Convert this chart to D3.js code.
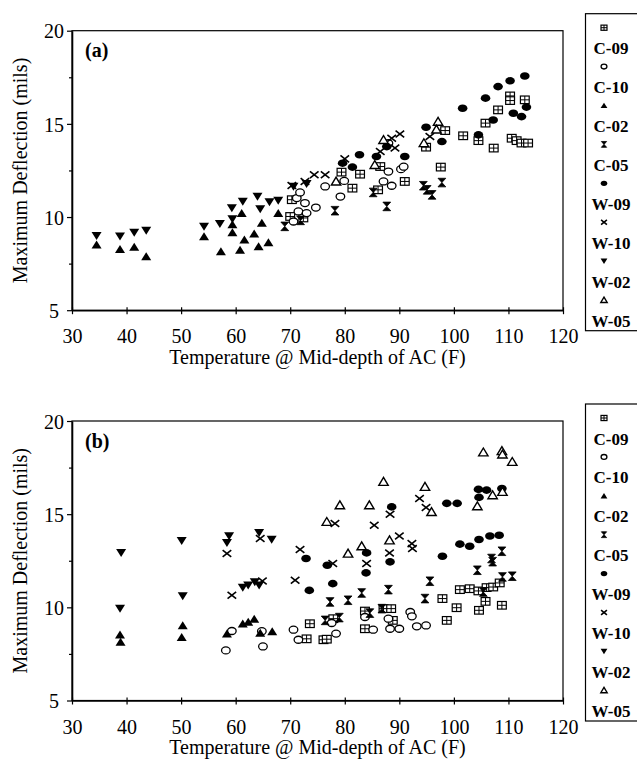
<!DOCTYPE html>
<html>
<head>
<meta charset="utf-8">
<script src="https://cdn.jsdelivr.net/npm/d3@7"></script>
<style>
  html, body { margin: 0; padding: 0; background: #fff; }
  svg { display: block; }
</style>
</head>
<body>
<svg id="chart" width="637" height="759"></svg>
<script>
// ---------------- DATA ----------------
const seriesNames = ["C-09", "C-10", "C-02", "C-05", "W-09", "W-10", "W-02", "W-05"];
const xTicks = [30, 40, 50, 60, 70, 80, 90, 100, 110, 120];
const yTicks = [5, 7.5, 10, 12.5, 15, 17.5, 20];
const yLabels = [5, 10, 15, 20];
const panelLabels = ["(a)", "(b)"];
const xTitle = "Temperature @ Mid-depth of AC (F)";
const yTitle = "Maximum Deflection (mils)";

// Panel (a): [temperature F, max deflection mils]
const aC09 = [[70.0,10.03],[70.3,10.93],[72.4,9.95],[79.4,12.41],[81.4,11.55],[82.8,12.30],[86.1,11.46],[86.5,12.71],[91.0,11.91],[94.9,13.75],[97.6,12.68],[98.4,14.64],[101.7,14.36],[104.5,14.10],[105.8,15.04],[107.3,13.70],[108.1,15.75],[110.3,16.50],[110.3,16.25],[113.0,16.29],[110.6,14.23],[111.5,14.10],[112.4,13.97],[113.6,13.97]];
const aC10 = [[70.6,9.76],[71.2,11.02],[71.5,10.30],[71.8,11.32],[72.7,10.75],[73.0,10.21],[74.7,10.51],[76.4,11.64],[79.2,11.10],[79.9,11.94],[87.1,11.91],[88.0,12.44],[88.0,13.96],[88.6,11.68],[90.3,12.57],[90.8,12.70]];
const aC02 = [[34.5,8.51],[38.8,8.28],[41.4,8.39],[43.6,7.89],[54.2,8.96],[57.3,8.15],[59.4,9.17],[59.4,9.60],[60.8,8.24],[61.1,10.20],[61.6,8.78],[63.4,9.10],[64.2,8.42],[64.8,9.68],[66.0,8.64],[67.8,10.21]];
const aC05 = [[69.0,9.50],[71.9,9.82],[78.2,10.34],[85.2,11.32],[87.7,10.57],[94.4,11.68],[95.1,11.46],[96.0,11.19],[97.8,11.85]];
const aW09 = [[79.6,12.89],[81.4,12.68],[82.7,13.34],[85.8,13.25],[87.7,13.78],[91.0,13.25],[94.9,14.82],[97.8,14.05],[101.6,15.84],[104.5,14.41],[105.8,16.38],[107.2,15.21],[108.1,17.00],[110.3,17.31],[110.9,15.57],[112.4,15.39],[113.0,17.57],[113.3,15.90]];
const aW10 = [[70.3,11.69],[72.7,11.91],[74.4,12.27],[76.4,12.27],[80.0,13.12],[86.5,13.52],[88.6,14.23],[89.2,13.70],[90.1,14.46],[95.6,14.32]];
const aW02 = [[34.5,8.99],[38.8,8.96],[41.4,9.17],[43.6,9.28],[54.2,9.49],[57.1,9.64],[59.4,9.89],[59.3,10.48],[61.3,10.83],[64.0,11.10],[64.5,10.43],[66.2,10.80],[67.8,10.89],[70.6,11.64],[73.0,11.78]];
const aW05 = [[78.4,11.91],[85.5,12.80],[87.1,14.14],[94.5,13.97],[97.1,15.12],[96.8,14.70]];

// Panel (b)
const bC09 = [[73.0,8.31],[73.6,9.12],[76.1,8.26],[76.7,8.29],[77.9,9.39],[83.7,9.80],[83.7,8.85],[87.1,9.93],[88.5,9.93],[88.8,9.30],[97.9,10.47],[98.7,9.30],[100.5,9.98],[101.1,10.95],[102.9,11.00],[104.5,10.88],[104.6,9.84],[105.8,10.32],[106.0,11.06],[107.2,11.09],[108.4,11.31],[108.8,10.11]];
const bC10 = [[58.2,7.69],[59.3,8.73],[65.0,7.90],[64.8,8.72],[70.6,8.80],[71.5,8.26],[77.6,9.16],[78.4,8.59],[83.7,9.48],[85.2,8.80],[88.0,9.39],[88.3,8.85],[90.0,8.85],[92.0,9.75],[92.3,9.52],[93.2,8.98],[94.9,9.03]];
const bC02 = [[38.8,8.53],[38.9,8.14],[50.3,9.03],[50.1,8.40],[58.4,8.58],[61.3,9.12],[62.3,9.21],[63.4,9.37],[64.5,8.62],[66.7,8.70]];
const bC05 = [[76.4,9.30],[77.3,10.29],[79.0,9.45],[80.6,10.38],[83.1,10.77],[84.6,9.69],[86.8,9.93],[88.0,10.95],[94.7,10.47],[95.6,11.40],[104.3,11.99],[105.4,10.82],[106.9,12.62],[107.1,12.45],[108.8,13.01],[108.9,11.63],[110.7,11.67]];
const bW09 = [[72.9,12.62],[73.5,10.91],[76.8,12.26],[77.8,11.27],[83.9,11.85],[84.0,12.92],[88.3,12.44],[88.6,15.39],[97.9,12.74],[98.7,15.58],[100.6,15.58],[101.1,13.39],[102.9,13.28],[104.6,13.64],[104.5,16.33],[104.6,15.90],[106.0,16.29],[106.6,13.83],[108.3,13.87],[108.8,16.38]];
const bW10 = [[58.4,12.89],[59.3,10.65],[64.5,13.69],[64.9,11.41],[70.9,11.45],[71.8,13.10],[77.8,12.35],[78.2,14.50],[84.0,12.35],[85.4,14.41],[88.2,12.92],[88.3,15.00],[90.0,13.83],[92.3,13.42],[92.4,13.16],[93.7,15.84],[94.9,15.36]];
const bW02 = [[39.0,12.92],[38.8,9.93],[50.1,13.57],[50.3,10.61],[58.8,13.83],[58.4,13.46],[61.3,11.06],[62.3,11.18],[63.5,11.36],[64.3,11.18],[64.3,14.00],[66.6,13.64]];
const bW05 = [[76.7,14.59],[79.1,15.48],[80.6,12.89],[83.1,13.28],[84.5,15.48],[87.1,16.74],[88.2,13.60],[94.7,16.47],[95.9,15.12],[104.3,15.43],[105.4,18.32],[107.1,16.02],[108.8,18.39],[108.9,18.21],[108.9,16.20],[110.7,17.81]];

const panelData = [
  [aC09, aC10, aC02, aC05, aW09, aW10, aW02, aW05],
  [bC09, bC10, bC02, bC05, bW09, bW10, bW02, bW05]
];

// ---------------- LAYOUT ----------------
const svg = d3.select("#chart");
const FONT = "'Liberation Serif','Times New Roman',serif";
const plotLeft = 72, plotRight = 563;
const panelTops = [30.7, 421];
const plotH = 279.5;

const x = d3.scaleLinear().domain([30, 120]).range([plotLeft, plotRight]);

function drawMarker(sel, type, k) {
  switch (type) {
    case 0: // boxed cross
      sel.append("rect").attr("x", -4.4*k).attr("y", -3.8*k).attr("width", 8.8*k).attr("height", 7.6*k)
        .attr("fill", "#fff").attr("stroke", "#000").attr("stroke-width", 1.2);
      sel.append("path").attr("d", `M0,${-3.8*k}V${3.8*k}M${-4.4*k},0H${4.4*k}`)
        .attr("stroke", "#000").attr("stroke-width", 1);
      break;
    case 1: // open circle
      sel.append("ellipse").attr("rx", 4.3*k).attr("ry", 3.5*k)
        .attr("fill", "#fff").attr("stroke", "#000").attr("stroke-width", 1.3);
      break;
    case 2: // filled up triangle
      sel.append("path").attr("d", `M0,${-4.2*k}L${5*k},${3.8*k}L${-5*k},${3.8*k}Z`).attr("fill", "#000");
      break;
    case 3: // hourglass
      sel.append("path").attr("d", `M${-3.9*k},${-4.3*k}H${3.9*k}L0,0L${3.9*k},${4.3*k}H${-3.9*k}L0,0Z`)
        .attr("fill", "#000").attr("stroke", "#000").attr("stroke-width", 0.8);
      break;
    case 4: // filled circle
      sel.append("ellipse").attr("rx", 4.8*k).attr("ry", 3.8*k).attr("fill", "#000");
      break;
    case 5: // x
      sel.append("path").attr("d", `M${-4.3*k},${-3.4*k}L${4.3*k},${3.4*k}M${4.3*k},${-3.4*k}L${-4.3*k},${3.4*k}`)
        .attr("stroke", "#000").attr("stroke-width", 1.6).attr("fill", "none");
      break;
    case 6: // filled down triangle
      sel.append("path").attr("d", `M0,${4.2*k}L${5*k},${-3.8*k}L${-5*k},${-3.8*k}Z`).attr("fill", "#000");
      break;
    case 7: // open up triangle
      sel.append("path").attr("d", `M0,${-4.3*k}L${4.7*k},${3.6*k}L${-4.7*k},${3.6*k}Z`)
        .attr("fill", "#fff").attr("stroke", "#000").attr("stroke-width", 1.4);
      break;
  }
}

panelTops.forEach((top, pi) => {
  const bottom = top + plotH;
  const y = d3.scaleLinear().domain([5, 20]).range([bottom, top]);
  const g = svg.append("g");

  // Frame
  g.append("rect").attr("x", plotLeft).attr("y", top).attr("width", plotRight - plotLeft).attr("height", plotH)
    .attr("fill", "none").attr("stroke", "#000").attr("stroke-width", 1.2);

  // Y axis
  const yAxis = d3.axisLeft(y).tickValues(yTicks).tickSize(5).tickSizeOuter(0)
    .tickFormat(d => yLabels.includes(d) ? d : "");
  const ya = g.append("g").attr("transform", `translate(${plotLeft},0)`).call(yAxis);
  ya.select(".domain").attr("stroke-width", 1.6);
  ya.selectAll(".tick line").attr("stroke-width", 1.2).attr("x2", d => yLabels.includes(d) ? -5 : -3);
  ya.selectAll(".tick text").attr("x", -18).attr("text-anchor", "middle").attr("dy", "0.36em")
    .style("font-family", FONT).style("font-size", "20px").attr("fill", "#000");

  // X axis
  const xAxis = d3.axisBottom(x).tickValues(xTicks).tickSize(4).tickSizeOuter(0);
  const xa = g.append("g").attr("transform", `translate(0,${bottom})`).call(xAxis);
  xa.select(".domain").attr("stroke-width", 1.6);
  xa.selectAll(".tick line").attr("y1", -3).attr("stroke-width", 1.2);
  xa.selectAll(".tick text").attr("y", 33).attr("dy", 0)
    .style("font-family", FONT).style("font-size", "20px").attr("fill", "#000");

  // Axis titles
  g.append("text").attr("x", (plotLeft + plotRight) / 2).attr("y", bottom + 53.5)
    .attr("text-anchor", "middle").style("font-family", FONT).style("font-size", "20px").text(xTitle);
  g.append("text").attr("transform", `translate(27,${(top + bottom) / 2}) rotate(-90)`)
    .attr("text-anchor", "middle").style("font-family", FONT).style("font-size", "20px").text(yTitle);

  // Panel label
  g.append("text").attr("x", 85).attr("y", top + 26.5).style("font-family", FONT)
    .style("font-size", "20px").style("font-weight", "bold").text(panelLabels[pi]);

  // Points
  panelData[pi].forEach((series, si) => {
    const sg = g.append("g").attr("class", "series-" + si);
    series.forEach(p => {
      const m = sg.append("g").attr("transform", `translate(${x(p[0])},${y(p[1])})`);
      drawMarker(m, si, 1);
    });
  });

  // Legend
  const lg = g.append("g");
  const lTop = top - 17;
  lg.append("rect").attr("x", 585.5).attr("y", lTop).attr("width", 60).attr("height", 317)
    .attr("fill", "#fff").attr("stroke", "#000").attr("stroke-width", 1.2);
  seriesNames.forEach((name, i) => {
    const labelY = lTop + 35 + i * 38.9;
    const m = lg.append("g").attr("transform", `translate(604,${labelY - 21})`);
    drawMarker(m, i, 0.68);
    lg.append("text").attr("x", 611).attr("y", labelY + 5.5).attr("text-anchor", "middle")
      .style("font-family", FONT).style("font-size", "17px").style("font-weight", "bold").text(name);
  });
});
</script>
</body>
</html>
